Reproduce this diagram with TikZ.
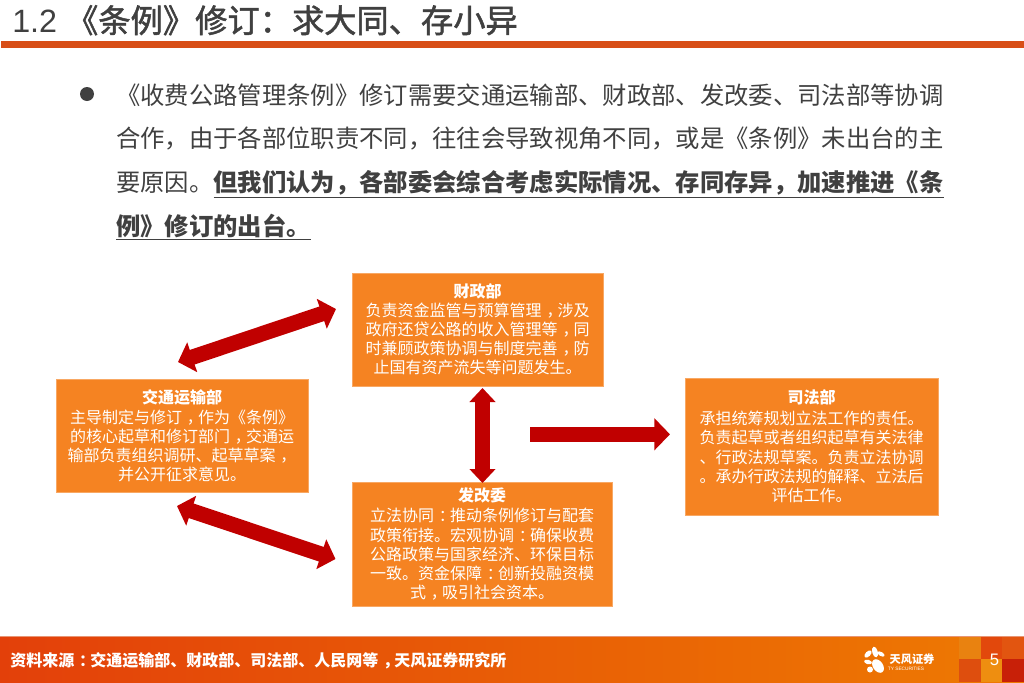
\documentclass[tikz,border=0pt]{standalone}
\usepackage{fontspec}
\usetikzlibrary{arrows.meta}
\setmainfont{Noto Sans CJK SC}
\newfontfamily\latinfont{Liberation Sans}
\newfontfamily\titlefont[FakeBold=1.6]{Noto Sans CJK SC}
\newcommand\zc{\hspace{.3em}，\hspace{-.3em}}
\newcommand\zm{\hspace{.3em}：\hspace{-.3em}}
\definecolor{ink}{HTML}{404040}
\definecolor{boxor}{HTML}{F58322}
\definecolor{redarr}{HTML}{C00000}
\definecolor{rule}{HTML}{D84E17}
\definecolor{footl}{HTML}{E3400A}
\definecolor{footr}{HTML}{EE7A02}
\definecolor{mosa}{HTML}{E98210}
\definecolor{mosb}{HTML}{E2480C}
\definecolor{mosc}{HTML}{E25510}
\definecolor{mosd}{HTML}{DE4E0E}
\definecolor{mose}{HTML}{EE8E10}
\definecolor{mosf}{HTML}{C82008}
\tikzset{
  box/.style={draw=boxor!70!white,line width=.4pt,fill=boxor,text=white,inner sep=0pt,align=center,
    font=\fontsize{12}{14.45}\selectfont},
  biarrow/.style={draw=redarr,line width=11.5pt,{Triangle[length=11.25pt,width=23pt]}-{Triangle[length=11.25pt,width=23pt]}},
  uparrow/.style={draw=redarr,line width=11.25pt,{Triangle[length=10.5pt,width=19pt]}-{Triangle[length=10.5pt,width=19pt]}},
  onearrow/.style={draw=redarr,line width=11.5pt,-{Triangle[length=11.75pt,width=23.5pt]}},
  petal/.style={fill=white,draw=none},
}
\begin{document}
\begin{tikzpicture}[x=.75pt,y=-.75pt]
\useasboundingbox (0,0) rectangle (1024,682);
% title
\node[anchor=base west,inner sep=0pt,text=ink,font=\fontsize{24.2}{28}\selectfont] (title) at (12,32.5) {{\latinfont 1.2 }{\titlefont 《条例》修订：求大同、存小异}};
\fill[rule] (1,41) rectangle (1024,47.5);
% bullet text
\fill[ink] (87,94) circle (7);
\node[anchor=west,inner sep=0pt,text=ink,align=left,font=\fontsize{18.25}{32.8}\selectfont] (body) at (116,162) {%
《收费公路管理条例》修订需要交通运输部、财政部、发改委、司法部等协调\\
合作，由于各部位职责不同，往往会导致视角不同，或是《条例》未出台的主\\
要原因。\textbf{\underline{但我们认为，各部委会综合考虑实际情况、存同存异，加速推进《条}}\\
\textbf{\underline{例》修订的出台。}}};
% boxes
\node[box,minimum width=189pt,minimum height=85pt] (jt) at (182,436) {\raisebox{-.75pt}{\textbf{交通运输部}}\\[1pt]主导制定与修订\zc 作为《条例》\\的核心起草和修订部门\zc 交通运\\输部负责组织调研、起草草案\zc\\并公开征求意见。};
\node[box,minimum width=188.5pt,minimum height=85pt] (cz) at (477.7,329.5) {\raisebox{-1.5pt}{\textbf{财政部}}\\[1pt]负责资金监管与预算管理\zc 涉及\\政府还贷公路的收入管理等\zc 同\\时兼顾政策协调与制度完善\zc 防\\止国有资产流失等问题发生。};
\node[box,minimum width=195pt,minimum height=93pt] (fg) at (482,544) {\textbf{发改委}\\[1pt]立法协同\zm 推动条例修订与配套\\政策衔接。宏观协调\zm 确保收费\\公路政策与国家经济、环保目标\\一致。资金保障\zm 创新投融资模\\式\zc 吸引社会资本。};
\node[box,minimum width=190pt,minimum height=103pt] (sf) at (811.5,446.5) {\textbf{司法部}\\[1pt]承担统筹规划立法工作的责任。\\负责起草或者组织起草有关法律\\、行政法规草案。负责立法协调\\。承办行政法规的解释、立法后\\评估工作。};
% connectors
\coordinate (a1s) at (178,362); \coordinate (a1e) at (336,309);
\coordinate (a2s) at (177,506); \coordinate (a2e) at (335.5,559);
\coordinate (a3s) at (482.5,388); \coordinate (a3e) at (482.5,483);
\coordinate (a4s) at (530,434.3); \coordinate (a4e) at (670,434.3);
\draw[biarrow] (a1s) -- (a1e);
\draw[biarrow] (a2s) -- (a2e);
\draw[uparrow] (a3s) -- (a3e);
\draw[onearrow] (a4s) -- (a4e);
% footer
\shade[left color=footl,right color=footr] (0,637) rectangle (1024,682);
\fill[rule!60!white] (0,636) rectangle (1024,637);
\fill[mosa] (959,637) rectangle (981,659);
\fill[mosb] (981,637) rectangle (1002,659);
\fill[mosc] (1002,637) rectangle (1024,659);
\fill[mosd] (959,659) rectangle (981,682);
\fill[mose] (981,659) rectangle (1002,682);
\fill[mosf] (1002,659) rectangle (1024,682);
\node[anchor=base west,inner sep=0pt,text=white,font=\fontsize{12}{14}\selectfont\bfseries] (src) at (10,666) {资料来源\zm 交通运输部、财政部、司法部、人民网等\zc 天风证券研究所};
\node[anchor=center,inner sep=0pt,text=white,font=\fontsize{12.5}{14}\selectfont\latinfont] (page) at (994.5,660) {5};
% logo
\fill[petal,rotate around={15:(875,652)}] (875,652) ellipse (2.8 and 5.5);
\fill[petal,rotate around={-45:(868,654)}] (868,654) ellipse (2.5 and 4.5);
\fill[petal,rotate around={60:(881,654)}] (881,654) ellipse (2 and 4);
\fill[petal,rotate around={75:(868,662)}] (868,662) ellipse (2.2 and 4);
\fill[petal,rotate around={35:(878,666)}] (878,666) ellipse (5 and 7.5);
\fill[petal] (870,669.5) ellipse (3 and 3);
\node[anchor=center,inner sep=0pt,text=white,font=\fontsize{8.4}{10}\selectfont\bfseries] (lg) at (912,659.5) {天风证券};
\node[anchor=center,inner sep=0pt,text=white,font=\fontsize{3.6}{4}\selectfont\latinfont] (lgen) at (906,668.5) {TY SECURITIES};
\end{tikzpicture}
\end{document}
